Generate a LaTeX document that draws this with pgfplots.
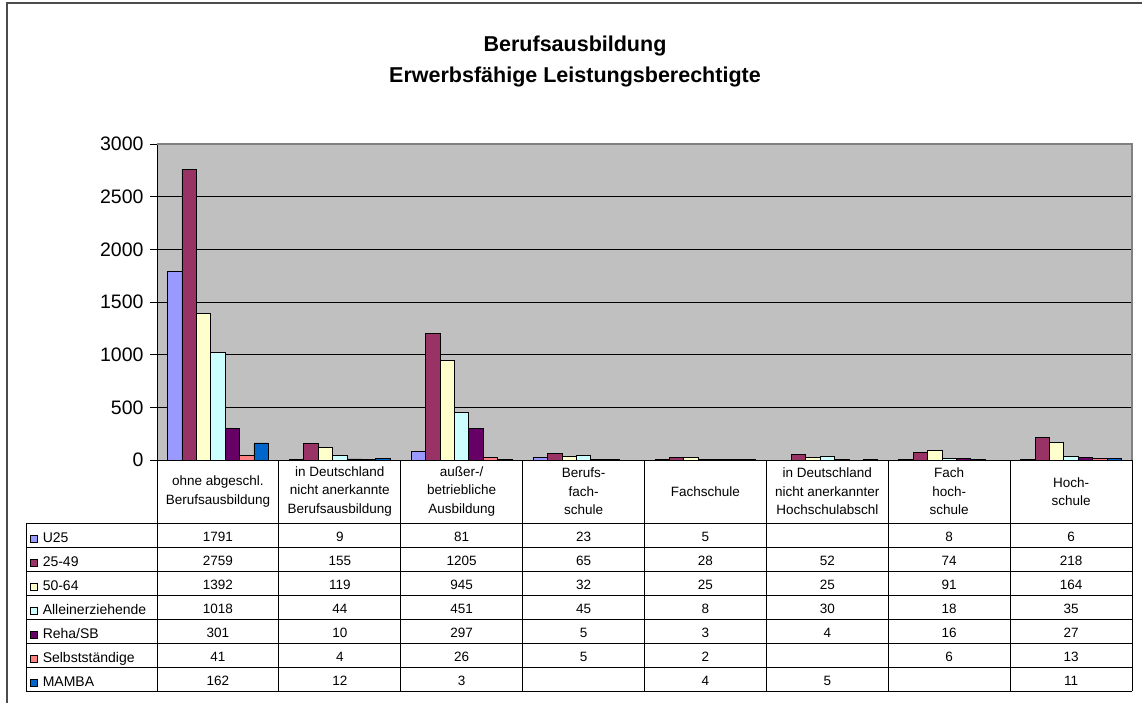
\documentclass[border=0pt]{standalone}
\usepackage{fontspec}
\setmainfont{Liberation Sans}
\usepackage{pgfplots}
\usepackage{pgfplotstable}
\pgfplotsset{compat=1.18}
\definecolor{cU}{HTML}{9999FF}
\definecolor{cA}{HTML}{993366}
\definecolor{cB}{HTML}{FFFFCC}
\definecolor{cC}{HTML}{CCFFFF}
\definecolor{cD}{HTML}{660066}
\definecolor{cE}{HTML}{FF8080}
\definecolor{cF}{HTML}{0066CC}
\definecolor{bg}{HTML}{C0C0C0}

\pgfplotstableread{
x U25 A B C D E F
0 1791 2759 1392 1018 301 41 162
1 9 155 119 44 10 4 12
2 81 1205 945 451 297 26 3
3 23 65 32 45 5 5 nan
4 5 28 25 8 3 2 4
5 nan 52 25 30 4 nan 5
6 8 74 91 18 16 6 nan
7 6 218 164 35 27 13 11
}\data

\pgfplotsset{sq/.style={legend image code/.code={\draw[##1,draw=black,line width=0.8pt] (0pt,-3.5pt) rectangle (7pt,3.5pt);}}}

\newcommand\rowvals[2]{%
  \foreach \v [count=\k from 0] in {#2} {\node[font=\fontsize{13.5}{14}\selectfont] at ({121.875*(\k+0.5)}, {-63-24*(#1+0.5)-1.5}) {\v};}%
}

\begin{document}
\begin{tikzpicture}
\useasboundingbox (-157pt,-242pt) rectangle (985pt,460pt);
\begin{axis}[
  at={(0pt,0pt)}, anchor=south west,
  scale only axis, width=975pt, height=316pt,
  xmin=-0.5, xmax=7.5, ymin=0, ymax=3000,
  ybar=0pt, bar width=14.4pt,
  xtick=\empty,
  ytick={0,500,...,3000},
  axis y line*=left, axis x line*=bottom,
  x axis line style={draw=none},
  y axis line style={black, line width=0.9pt, -},
  ymajorgrids, grid style={black, line width=0.9pt},
  axis background/.style={fill=bg},
  tick align=outside, major tick length=7pt,
  tick style={black, line width=0.8pt},
  yticklabel style={font=\fontsize{19.5}{20}\selectfont, xshift=-3pt},
  /pgf/number format/assume math mode=true,
  /pgf/number format/1000 sep={},
  clip=false,
  legend style={at={(axis description cs:-0.1303,-0.2310)}, anchor=north west,
    draw=none, fill=none, inner sep=0pt, outer sep=0pt, row sep=12pt, column sep=5pt,
    font=\fontsize{14}{14}\selectfont,
    nodes={inner sep=0pt, outer sep=0pt, text height=9pt, text depth=3pt, anchor=west}},
  legend cell align=left,
]
\addplot[fill=cU, draw=black, line width=0.8pt, sq] table[x=x,y=U25]{\data};
\addlegendentry{U25}
\addplot[fill=cA, draw=black, line width=0.8pt, sq] table[x=x,y=A]{\data};
\addlegendentry{25-49}
\addplot[fill=cB, draw=black, line width=0.8pt, sq] table[x=x,y=B]{\data};
\addlegendentry{50-64}
\addplot[fill=cC, draw=black, line width=0.8pt, sq] table[x=x,y=C]{\data};
\addlegendentry{Alleinerziehende}
\addplot[fill=cD, draw=black, line width=0.8pt, sq] table[x=x,y=D]{\data};
\addlegendentry{Reha/SB}
\addplot[fill=cE, draw=black, line width=0.8pt, sq] table[x=x,y=E]{\data};
\addlegendentry{Selbstständige}
\addplot[fill=cF, draw=black, line width=0.8pt, sq] table[x=x,y=F]{\data};
\addlegendentry{MAMBA}
\end{axis}
\begin{scope}[x=1pt,y=1pt,line width=0.9pt]
  \draw[line width=1.2pt, gray] (0,316) -- (975,316) -- (975,0);
  \draw (0,0) -- (975,0);
  \foreach \k in {0,...,7} \draw (-131,-63-24*\k) -- (975,-63-24*\k);
  \draw (-131,-63) -- (-131,-231);
  \foreach \k in {0,...,8} \draw (121.875*\k,0) -- (121.875*\k,-231);
  \foreach \k/\t in {0/{ohne abgeschl.\\Berufsausbildung},
                     1/{in Deutschland\\nicht anerkannte\\Berufsausbildung},
                     2/{außer-/\\betriebliche\\Ausbildung},
                     3/{Berufs-\\fach-\\schule},
                     4/{Fachschule},
                     5/{in Deutschland\\nicht anerkannter\\Hochschulabschl},
                     6/{Fach\\hoch-\\schule},
                     7/{Hoch-\\schule}}
    \node[align=center, font=\fontsize{13.5}{18.5}\selectfont] at ({121.875*(\k+0.5)},-31.5) {\t};
  \rowvals{0}{1791,9,81,23,5,,8,6}
  \rowvals{1}{2759,155,1205,65,28,52,74,218}
  \rowvals{2}{1392,119,945,32,25,25,91,164}
  \rowvals{3}{1018,44,451,45,8,30,18,35}
  \rowvals{4}{301,10,297,5,3,4,16,27}
  \rowvals{5}{41,4,26,5,2,,6,13}
  \rowvals{6}{162,12,3,,4,5,,11}
  \draw[line width=1.2pt, black!70] (-150,-260) -- (-150,457) -- (1000,457);
  \node[anchor=base, font=\bfseries\fontsize{21.5}{22}\selectfont] at (418,408) {Berufsausbildung};
  \node[anchor=base, font=\bfseries\fontsize{21.5}{22}\selectfont] at (418,377) {Erwerbsfähige Leistungsberechtigte};
\end{scope}
\end{tikzpicture}
\end{document}
